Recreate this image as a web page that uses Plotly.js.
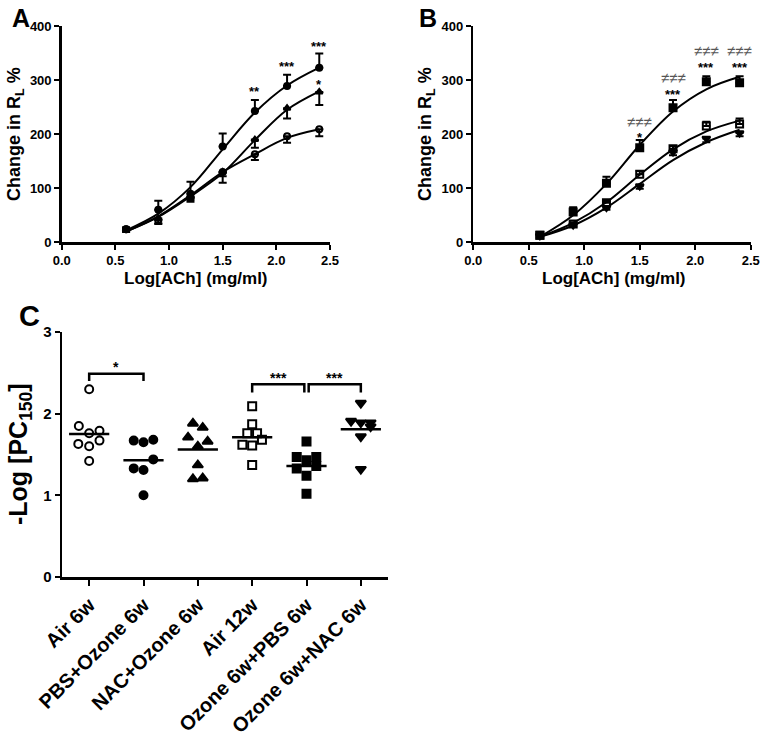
<!DOCTYPE html>
<html>
<head>
<meta charset="utf-8">
<script src="https://cdn.plot.ly/plotly-3.0.1.min.js"></script>
<style>html,body{margin:0;padding:0;background:#fff}#chart{width:768px;height:742px}</style>
</head>
<body>
<div id="chart"></div>
<script>
// ---------- Data ----------
const logACh = [0.6, 0.9, 1.2, 1.5, 1.8, 2.1, 2.4];

// Panel A
const aFilledMean = [24, 60, 90, 177, 243, 289, 323];
const aFilledErr  = [4, 17, 22, 24, 20, 21, 26];
const aTriMean    = [23, 44, 83, 130, 190, 248, 278];
const aTriErr     = [4, 10, 8, 20, 15, 19, 24];
const aOpenMean   = [24, 41, 84, 130, 163, 196, 209];
const aOpenErr    = [4, 6, 6, 8, 11, 12, 13];
const aFitFilled  = [22, 53, 102, 172, 240, 290, 323];
const aFitTri     = [20, 47, 85, 128, 189, 245, 279];
const aFitOpen    = [20, 48, 87, 130, 163, 193, 209];

// Panel B
const bFilledMean = [13, 56, 109, 175, 249, 297, 295];
const bFilledErr  = [3, 9, 12, 14, 14, 10, 12];
const bOpenMean   = [13, 34, 73, 126, 173, 215, 219];
const bOpenErr    = [2, 3, 4, 6, 5, 8, 10];
const bTriMean    = [12, 32, 64, 104, 167, 192, 202];
const bTriErr     = [2, 3, 4, 5, 6, 7, 6];
const bFitFilled  = [10, 50, 108, 180, 242, 283, 306];
const bFitOpen    = [10, 36, 74, 125, 172, 205, 225];
const bFitTri     = [10, 31, 64, 108, 152, 185, 208];

// Panel A/B significance marks
const aStarX = [1.8, 2.1, 2.4, 2.4];
const aStarY = [285, 332, 369, 297];
const aStarText = ['**', '***', '***', '*'];
const bStarX = [1.5, 1.8, 2.1, 2.4];
const bStarY = [201, 280, 330, 330];
const bStarText = ['*', '***', '***', '***'];
const bNeqY = [224, 304, 354, 354];
const bNeqText = ['≠≠≠', '≠≠≠', '≠≠≠', '≠≠≠'];

// Panel C
const cCategories = ['Air 6w', 'PBS+Ozone 6w', 'NAC+Ozone 6w', 'Air 12w', 'Ozone 6w+PBS 6w', 'Ozone 6w+NAC 6w'];
const cVals = [
  [2.30, 1.85, 1.76, 1.79, 1.63, 1.60, 1.67, 1.42],
  [1.67, 1.65, 1.68, 1.44, 1.33, 1.31, 1.00],
  [1.88, 1.83, 1.71, 1.66, 1.60, 1.37, 1.20, 1.21],
  [2.09, 1.87, 1.76, 1.76, 1.68, 1.62, 1.61, 1.37],
  [1.66, 1.47, 1.43, 1.47, 1.33, 1.36, 1.24, 1.02],
  [2.13, 1.91, 1.89, 1.89, 1.84, 1.72, 1.32]
];
const cJitter = [
  [0, -0.19, 0, 0.19, -0.2, 0, 0.19, 0],
  [-0.18, 0, 0.18, 0.18, -0.18, 0, 0],
  [-0.09, 0.09, -0.18, 0.18, 0, 0, -0.09, 0.09],
  [0, 0, -0.09, 0.09, 0.18, -0.18, 0, 0],
  [0, -0.18, 0, 0.18, -0.18, 0.18, 0, 0],
  [0, -0.18, 0, 0.18, 0.18, 0, 0]
];
const cMeans = [1.75, 1.43, 1.56, 1.71, 1.36, 1.81];
const cSymbols = ['circle-open', 'circle', 'triangle-up', 'square-open', 'square', 'triangle-down'];
const cBrFrom = [0, 3, 4.04];
const cBrTo = [1, 3.96, 5];
const cBrTop = [2.49, 2.36, 2.36];
const cBrBottom = [2.40, 2.26, 2.26];
const cBrLabel = ['*', '***', '***'];

// ---------- Build ----------
const FONT = 'Arial, "Liberation Sans", sans-serif';
const W = 768, H = 742;
const px = v => v / W;
const py = v => 1 - v / H;

const traces = [];
function fitLine(x, y, xa, ya) {
  traces.push({x, y, xaxis: xa, yaxis: ya, mode: 'lines', type: 'scatter',
    line: {color: '#000', width: 2, shape: 'spline', smoothing: 1}, hoverinfo: 'skip'});
}
function points(x, y, err, dir, sym, xa, ya, size) {
  const up = dir === 'up';
  traces.push({x, y, xaxis: xa, yaxis: ya, mode: 'markers', type: 'scatter',
    marker: {symbol: sym, size: size || 7, color: '#000', line: {color: '#000', width: 2}},
    error_y: {type: 'data', symmetric: false, array: up ? err : err.map(() => 0),
      arrayminus: up ? err.map(() => 0) : err, color: '#000', thickness: 2, width: 4}});
}
// Panel A
fitLine(logACh, aFitFilled, 'x', 'y');
fitLine(logACh, aFitTri, 'x', 'y');
fitLine(logACh, aFitOpen, 'x', 'y');
points(logACh, aFilledMean, aFilledErr, 'up', 'circle', 'x', 'y', 6);
points(logACh, aTriMean, aTriErr, 'down', 'triangle-up', 'x', 'y', 6);
points(logACh, aOpenMean, aOpenErr, 'down', 'circle-open', 'x', 'y', 6);
// Panel B
fitLine(logACh, bFitFilled, 'x2', 'y2');
fitLine(logACh, bFitOpen, 'x2', 'y2');
fitLine(logACh, bFitTri, 'x2', 'y2');
points(logACh, bFilledMean, bFilledErr, 'up', 'square', 'x2', 'y2', 7);
points(logACh, bOpenMean, bOpenErr, 'up', 'square-open', 'x2', 'y2', 7);
points(logACh, bTriMean, bTriErr, 'down', 'triangle-down', 'x2', 'y2', 7);
// Panel C
cVals.forEach((vals, i) => {
  traces.push({x: vals.map((v, k) => i + cJitter[i][k]), y: vals, xaxis: 'x3', yaxis: 'y3',
    mode: 'markers', type: 'scatter',
    marker: {symbol: cSymbols[i], size: cSymbols[i].startsWith('triangle') ? 9 : 8, color: '#000', line: {color: '#000', width: 2}}});
  traces.push({x: [i - 0.37, i + 0.37], y: [cMeans[i], cMeans[i]], xaxis: 'x3', yaxis: 'y3',
    mode: 'lines', type: 'scatter', line: {color: '#000', width: 2.5}, hoverinfo: 'skip'});
});
cBrFrom.forEach((f, i) => {
  traces.push({x: [f, f, cBrTo[i], cBrTo[i]], y: [cBrBottom[i], cBrTop[i], cBrTop[i], cBrBottom[i]],
    xaxis: 'x3', yaxis: 'y3', mode: 'lines', type: 'scatter', line: {color: '#000', width: 2.5}, hoverinfo: 'skip'});
});

const tickfont = {family: FONT, size: 13, weight: 'bold', color: '#000'};
const baseAxis = {showline: true, linecolor: '#000', linewidth: 2.5, ticks: 'outside', ticklen: 5,
  tickwidth: 2, tickcolor: '#000', showgrid: false, zeroline: false, tickfont, fixedrange: true};

const annotations = [];
function ann(text, x, y, xref, yref, size, extra) {
  annotations.push(Object.assign({text, x, y, xref, yref, showarrow: false,
    font: {family: FONT, size, weight: 'bold', color: '#000'}, xanchor: 'center', yanchor: 'middle'}, extra || {}));
}
// Panel labels
ann('A', px(21), py(18), 'paper', 'paper', 25);
ann('B', px(428), py(18), 'paper', 'paper', 25);
ann('C', px(29), py(316), 'paper', 'paper', 29);
// Axis titles
ann('Change in R<sub>L</sub> %', px(15), py(134), 'paper', 'paper', 18, {textangle: -90});
ann('Change in R<sub>L</sub> %', px(426), py(134), 'paper', 'paper', 18, {textangle: -90});
ann('Log[ACh] (mg/ml)', px(196), py(278), 'paper', 'paper', 17);
ann('Log[ACh] (mg/ml)', px(614), py(278), 'paper', 'paper', 17);
ann('-Log [PC<sub>150</sub>]', px(20), py(454), 'paper', 'paper', 25, {textangle: -90});
// Stars
aStarX.forEach((x, i) => ann(aStarText[i], x, aStarY[i] - 6, 'x', 'y', 13));
bStarX.forEach((x, i) => {
  ann(bStarText[i], x, bStarY[i] - 7, 'x2', 'y2', 13);
  annotations.push({text: bNeqText[i], x, y: bNeqY[i], xref: 'x2', yref: 'y2', showarrow: false,
    font: {family: FONT, size: 15, color: '#555'}, xanchor: 'center', yanchor: 'middle'});
});
cBrFrom.forEach((f, i) => ann(cBrLabel[i], (f + cBrTo[i]) / 2, cBrTop[i] + 0.08, 'x3', 'y3', 14));

const layout = {
  width: W, height: H, margin: {l: 0, r: 0, t: 0, b: 0},
  paper_bgcolor: '#fff', plot_bgcolor: '#fff', showlegend: false,
  xaxis: Object.assign({}, baseAxis, {domain: [px(61.7), px(330)], range: [0, 2.5], tickvals: [0, 0.5, 1, 1.5, 2, 2.5], tickformat: '.1f', anchor: 'y'}),
  yaxis: Object.assign({}, baseAxis, {domain: [py(242.3), py(26)], range: [0, 400], tickvals: [0, 100, 200, 300, 400], anchor: 'x'}),
  xaxis2: Object.assign({}, baseAxis, {domain: [px(473.3), px(750.7)], range: [0, 2.5], tickvals: [0, 0.5, 1, 1.5, 2, 2.5], tickformat: '.1f', anchor: 'y2'}),
  yaxis2: Object.assign({}, baseAxis, {domain: [py(242.3), py(26)], range: [0, 400], tickvals: [0, 100, 200, 300, 400], anchor: 'x2'}),
  xaxis3: Object.assign({}, baseAxis, {domain: [px(62), px(388)], range: [-0.5, 5.5], tickvals: [0, 1, 2, 3, 4, 5], ticktext: cCategories, tickangle: -45, ticklen: 6,
    tickfont: {family: FONT, size: 20, weight: 'bold', color: '#000'}, anchor: 'y3'}),
  yaxis3: Object.assign({}, baseAxis, {domain: [py(577), py(332)], range: [0, 3], tickvals: [0, 1, 2, 3], anchor: 'x3',
    tickfont: {family: FONT, size: 15, weight: 'bold', color: '#000'}}),
  annotations
};
Plotly.newPlot('chart', traces, layout, {displayModeBar: false, staticPlot: true});
</script>
</body>
</html>
